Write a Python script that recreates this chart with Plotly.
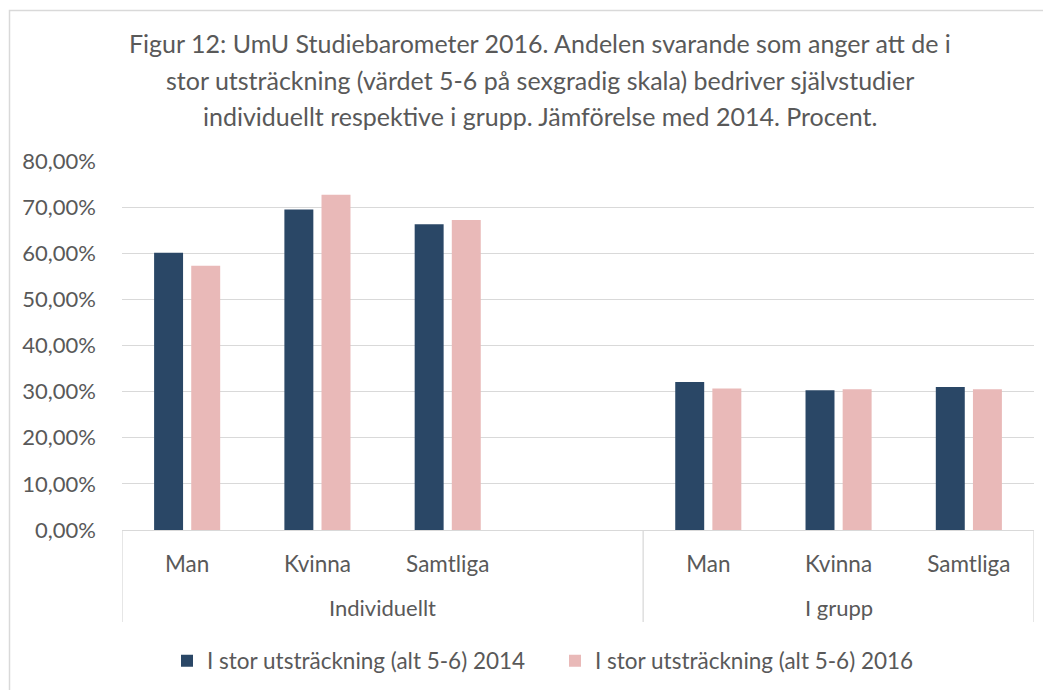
import plotly.graph_objects as go

groups = ["Individuellt"] * 4 + ["I grupp"] * 3
categories = ["Man", "Kvinna", "Samtliga", "", "Man", "Kvinna", "Samtliga"]
values_2014 = [60.1, 69.5, 66.3, None, 32.1, 30.3, 31.0]
values_2016 = [57.3, 72.7, 67.2, None, 30.7, 30.5, 30.5]
series_names = ["I stor utsträckning (alt 5-6) 2014", "I stor utsträckning (alt 5-6) 2016"]
colors = ["#2A4766", "#E9B9B8"]
title_lines = ["Figur 12: UmU Studiebarometer 2016. Andelen svarande som anger att de i",
               "stor utsträckning (värdet 5-6 på sexgradig skala) bedriver självstudier",
               "individuellt respektive i grupp. Jämförelse med 2014. Procent."]
y_ticks = [0, 10, 20, 30, 40, 50, 60, 70, 80]

FONT = "Lato"
TXT = "#595959"
GRID = "#D9D9D9"
OFF = 8  # page body margin
W, H = 1051 - OFF, 690 - OFF
PLOT_TOP, PLOT_BOTTOM, PLOT_LEFT, PLOT_RIGHT = 161 - OFF, 530 - OFF, 122 - OFF, 1034 - OFF
PH = PLOT_BOTTOM - PLOT_TOP
PW = PLOT_RIGHT - PLOT_LEFT

def py(ref_px):
    return (PLOT_BOTTOM - (ref_px - OFF)) / PH

def pxx(ref_px):
    return ((ref_px - OFF) - PLOT_LEFT) / PW

keys = [f"{g}|{i}" for i, g in enumerate(groups)]

fig = go.Figure()
for name, vals, col in zip(series_names, [values_2014, values_2016], colors):
    fig.add_trace(go.Bar(x=keys, y=vals, name=name,
                         marker=dict(color=col, line=dict(width=0))))

annotations = []
for i, line in enumerate(title_lines):
    annotations.append(dict(text=line, x=pxx(540), y=py([43, 80, 116][i]), xref="paper", yref="paper",
                            xanchor="center", yanchor="middle", showarrow=False,
                            font=dict(size=25, color=TXT, family=FONT)))
group_names = list(dict.fromkeys(groups))
for gname in group_names:
    idx = [i for i, g in enumerate(groups) if g == gname]
    annotations.append(dict(text=gname, x=(idx[0] + idx[-1]) / 2, y=py(607), xref="x", yref="paper",
                            xanchor="center", yanchor="middle", showarrow=False,
                            font=dict(size=22, color=TXT, family=FONT)))

shapes = [dict(type="rect", xref="paper", yref="paper",
               x0=pxx(9.5), x1=pxx(1300), y0=py(1000), y1=py(10.5),
               line=dict(color=GRID, width=1.5), fillcolor="rgba(0,0,0,0)", layer="below")]
bounds = [-0.5] + [i + 0.5 for i in range(len(groups) - 1) if groups[i] != groups[i + 1]] + [len(groups) - 0.5]
for b in bounds:
    shapes.append(dict(type="line", xref="x", yref="paper", x0=b, x1=b, y0=0, y1=py(622),
                       line=dict(color=GRID, width=1.3)))

fig.update_layout(
    width=W, height=H,
    margin=dict(l=PLOT_LEFT, r=W - PLOT_RIGHT, t=PLOT_TOP, b=H - PLOT_BOTTOM, autoexpand=False),
    paper_bgcolor="white", plot_bgcolor="white",
    barmode="group", bargap=0.43, bargroupgap=0.22,
    font=dict(family=FONT, color=TXT, size=22),
    showlegend=True,
    legend=dict(orientation="h", xref="container", yref="container",
                x=(555 - OFF) / W, xanchor="center", y=1 - (661 - OFF) / H, yanchor="middle",
                font=dict(size=22.5, color=TXT, family=FONT), traceorder="normal",
                itemwidth=30, entrywidth=343, entrywidthmode="pixels"),
    annotations=annotations,
    shapes=shapes,
)
fig.update_yaxes(range=[0, 80], tickvals=y_ticks,
                 ticktext=[f"{v},00%" for v in y_ticks],
                 showgrid=True, gridcolor=GRID, gridwidth=1.3,
                 zeroline=False, showline=False, ticks="", automargin=False,
                 ticklabelstandoff=25,
                 tickfont=dict(size=22, color=TXT, family=FONT))
fig.update_xaxes(type="category", tickvals=keys, ticktext=categories,
                 range=[-0.5, len(keys) - 0.5],
                 showline=True, linecolor=GRID, linewidth=1.3, showgrid=False,
                 ticks="", automargin=False, ticklabelstandoff=14,
                 tickfont=dict(size=22.5, color=TXT, family=FONT))

fig.write_html("out.html")
